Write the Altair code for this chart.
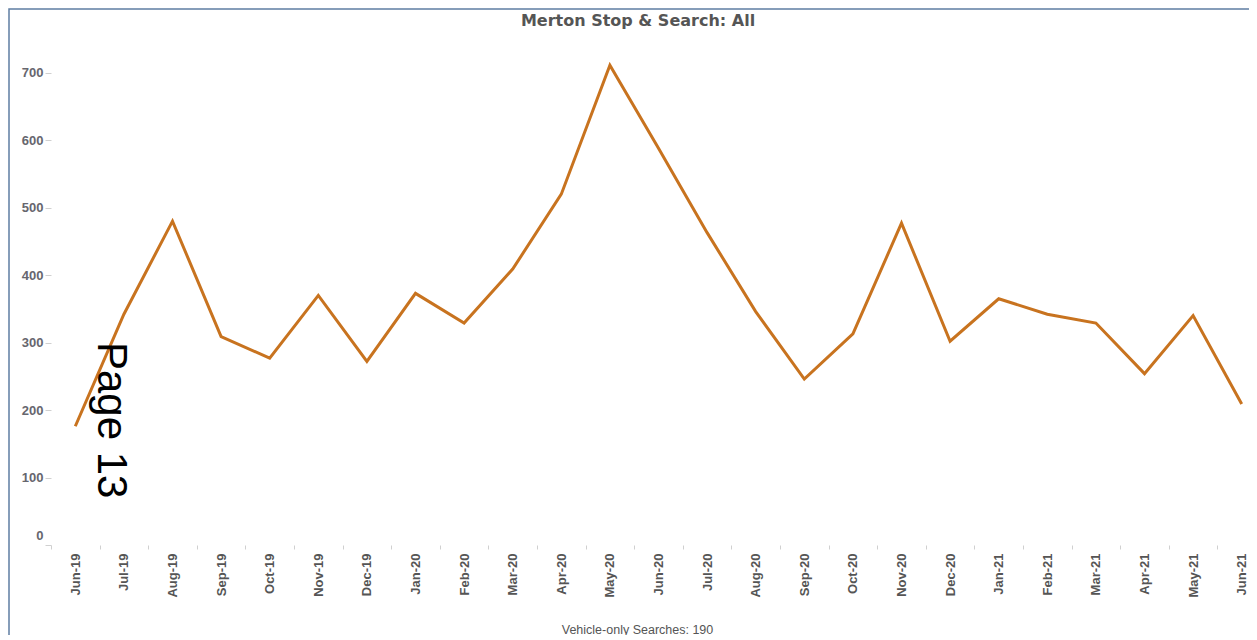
import altair as alt
import pandas as pd

months = ["Jun-19", "Jul-19", "Aug-19", "Sep-19", "Oct-19", "Nov-19", "Dec-19",
          "Jan-20", "Feb-20", "Mar-20", "Apr-20", "May-20", "Jun-20", "Jul-20",
          "Aug-20", "Sep-20", "Oct-20", "Nov-20", "Dec-20", "Jan-21", "Feb-21",
          "Mar-21", "Apr-21", "May-21", "Jun-21"]
searches = [176, 342, 480, 309, 277, 370, 272,
            373, 329, 409, 520, 711, 588, 463,
            346, 246, 313, 477, 302, 365, 342,
            329, 254, 340, 209]
y_ticks = [0, 100, 200, 300, 400, 500, 600, 700]

title_text = "Merton Stop & Search: All"
footer_text = "Vehicle-only Searches: 190"
page_text = "Page 13"

df = pd.DataFrame({"Month": months, "Searches": searches})

W = 1198
H = 506
LINE_COLOR = "#C8731F"

line = alt.Chart(df).mark_line(color=LINE_COLOR, strokeWidth=3).encode(
    x=alt.X("Month:O", sort=months,
            scale=alt.Scale(type="band", paddingInner=0, paddingOuter=0, range=[0, 1215]),
            axis=alt.Axis(title=footer_text, labelAngle=270, labelFont="Liberation Sans",
                          labelFontWeight="bold", labelFontSize=13, labelColor="#555555",
                          labelPadding=4, tickSize=4, tickColor="#d0d0d0", tickBand="extent",
                          domain=False, titleFont="Liberation Sans", titleFontWeight="normal",
                          titleFontSize=12.5, titleColor="#555555", titleX=586, titleY=88,
                          titleAlign="center", titleBaseline="alphabetic", labelOverlap=False)),
    y=alt.Y("Searches:Q", scale=alt.Scale(domain=[0, 750], nice=False, zero=True),
            axis=alt.Axis(title=None, values=y_ticks, grid=False, domain=False,
                          labelFont="Liberation Sans", labelFontWeight="bold", labelFontSize=13,
                          labelColor="#66666e", labelPadding=2, tickSize=6, tickColor="#d0d0d0",
                          labelOffset=alt.condition("datum.value == 0", alt.value(-10), alt.value(0))))
)

one = alt.Data(values=[{}])

frame = alt.Chart(one).mark_rect(fill=None, fillOpacity=0, stroke="#5f7ea3", strokeWidth=1.5).encode(
    x=alt.value(-42), y=alt.value(-30), x2=alt.value(1400), y2=alt.value(800)
)

page = alt.Chart(one).mark_text(text=page_text, font="Liberation Sans", fontSize=42, angle=90,
                                align="left", baseline="alphabetic", color="#000000").encode(
    x=alt.value(47), y=alt.value(303)
)

chart = alt.layer(frame, line, page).properties(
    width=W, height=H,
    background="white",
    title=alt.TitleParams(title_text, font="DejaVu Sans", fontSize=16, fontWeight="bold",
                          color="#555555", anchor="middle", frame="group", dx=-12,
                          baseline="alphabetic", offset=0, dy=34),
    autosize=alt.AutoSizeParams(type="none"),
    padding={"left": 43, "top": 31, "right": 0, "bottom": 90},
).configure_view(strokeWidth=0, stroke="transparent")

chart.save("out.html", embed_options={"renderer": "svg", "actions": False})
